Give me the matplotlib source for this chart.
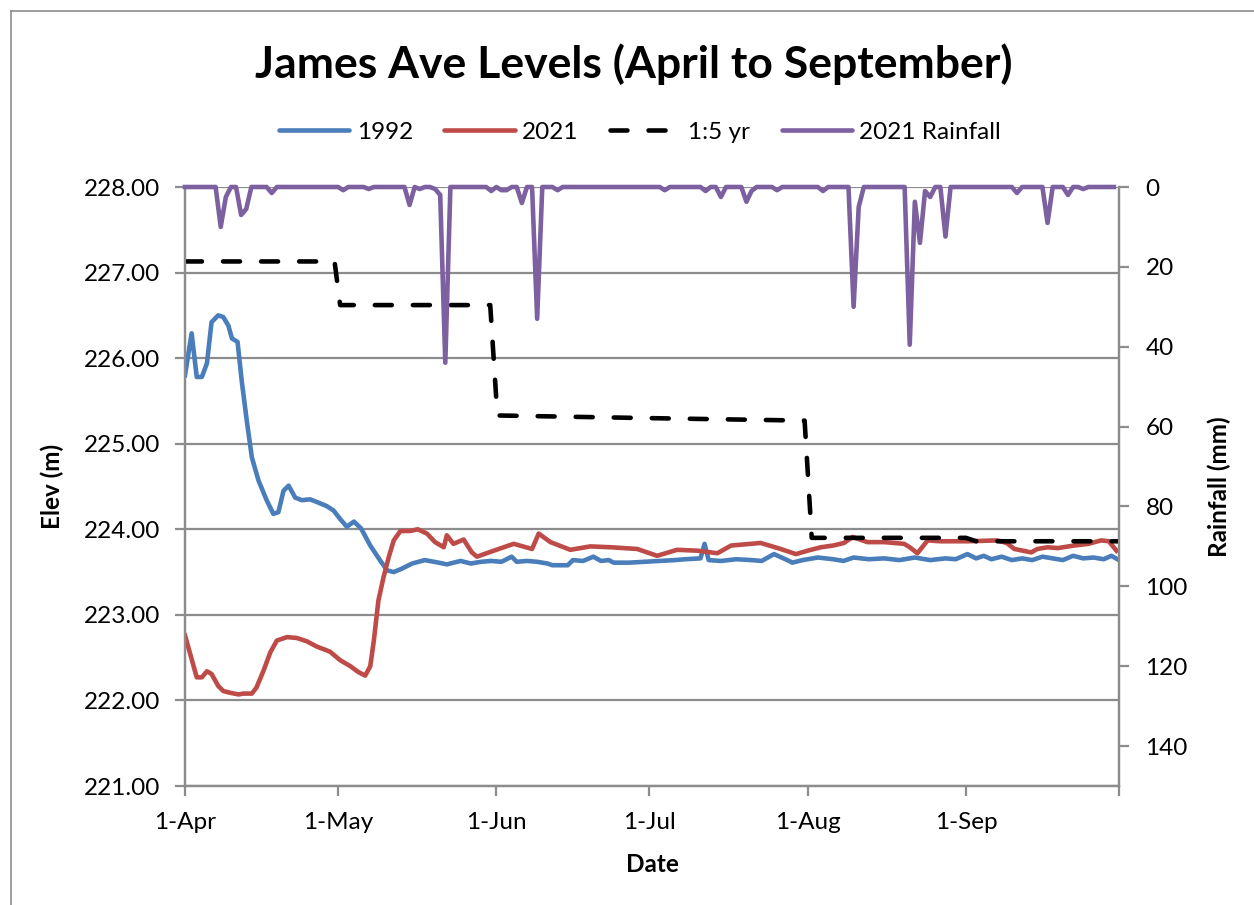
import matplotlib
matplotlib.use("Agg")
import matplotlib.pyplot as plt
from matplotlib.lines import Line2D
import numpy as np

plt.rcParams['font.family'] = ['Lato', 'DejaVu Sans']

# ---------------- data (day 0 = 1-Apr) ----------------
month_ticks = [0, 30, 61, 91, 122, 153]
month_labels = ["1-Apr", "1-May", "1-Jun", "1-Jul", "1-Aug", "1-Sep"]

days_1992 = [0, 1.3, 2.3, 3.3, 4.3, 5.2, 6.5, 7.5, 8.5, 9.2, 10.3, 11.1, 12.1, 13.1, 14.4,
             16, 17.3, 18.3, 19.3, 20.3, 21.6, 22.9, 24.5, 25.8, 27.8, 29.1, 30.4, 31.7,
             33.1, 34.5, 36.3, 38.3, 39.6, 40.9, 42.5, 44.5, 47, 49.7, 51.3, 54, 56, 58,
             60, 62, 64, 65, 67, 69, 71, 72, 75, 76, 78, 80, 81.5, 83, 84, 87, 90, 93, 96,
             98, 101, 101.8, 102.6, 105, 108, 111, 113, 115.4, 118, 119, 121, 124, 127,
             129, 131, 134, 137, 140, 143, 146, 149, 151, 153.3, 155, 156.5, 158, 160, 162,
             164, 166, 168, 170, 172, 174, 176, 178, 180, 181.5, 183]
elev_1992 = [225.80, 226.29, 225.78, 225.78, 225.94, 226.42, 226.50, 226.48, 226.38, 226.23,
             226.19, 225.74, 225.27, 224.84, 224.57, 224.34, 224.18, 224.20, 224.45, 224.51,
             224.37, 224.34, 224.35, 224.32, 224.27, 224.22, 224.12, 224.03, 224.09, 224.01,
             223.81, 223.63, 223.52, 223.50, 223.54, 223.60, 223.64, 223.61, 223.59, 223.63,
             223.60, 223.62, 223.63, 223.62, 223.68, 223.62, 223.63, 223.62, 223.60, 223.58,
             223.58, 223.64, 223.63, 223.68, 223.63, 223.64, 223.61, 223.61, 223.62, 223.63,
             223.64, 223.65, 223.66, 223.83, 223.64, 223.63, 223.65, 223.64, 223.63, 223.71,
             223.64, 223.61, 223.64, 223.67, 223.65, 223.63, 223.67, 223.65, 223.66, 223.64,
             223.67, 223.64, 223.66, 223.65, 223.71, 223.66, 223.69, 223.65, 223.68, 223.64,
             223.66, 223.64, 223.68, 223.66, 223.64, 223.69, 223.66, 223.67, 223.65, 223.69,
             223.64]

days_2021 = [0, 2.3, 3.3, 4.3, 5.2, 6.5, 7.5, 8.8, 10.5, 11.4, 13.1, 14, 15.4, 16.7, 18, 20,
             21.9, 23.9, 25.8, 28.4, 30.4, 32.4, 34, 35.3, 36.3, 37, 37.9, 38.9, 39.9, 40.9,
             42.2, 44.1, 45.6, 47.4, 49, 50.7, 51.3, 52.6, 54.6, 56.2, 57.2, 60.5, 64.4, 68,
             69.3, 71.6, 75.5, 79.4, 83.4, 88.6, 92.5, 96.4, 100.4, 104.3, 107, 112.8,
             116.7, 119.7, 122, 124.6, 127, 129.1, 130.8, 133.7, 137, 140.9, 142, 143.5,
             145.5, 148, 153.3, 159.2, 161, 162.5, 165.8, 167, 169, 171, 174.2, 177, 179.5,
             181, 182.5]
elev_2021 = [222.76, 222.27, 222.27, 222.34, 222.31, 222.17, 222.11, 222.09, 222.07, 222.08,
             222.08, 222.15, 222.35, 222.56, 222.70, 222.74, 222.73, 222.69, 222.63, 222.57,
             222.47, 222.40, 222.33, 222.29, 222.40, 222.70, 223.17, 223.44, 223.67, 223.87,
             223.98, 223.98, 224.00, 223.95, 223.85, 223.79, 223.93, 223.83, 223.88, 223.73,
             223.68, 223.75, 223.83, 223.77, 223.95, 223.85, 223.76, 223.80, 223.79, 223.77,
             223.69, 223.76, 223.75, 223.72, 223.81, 223.84, 223.77, 223.71, 223.75, 223.79,
             223.81, 223.84, 223.91, 223.85, 223.85, 223.83, 223.79, 223.72, 223.87, 223.86,
             223.86, 223.87, 223.84, 223.77, 223.73, 223.77, 223.79, 223.78, 223.81, 223.83,
             223.87, 223.86, 223.75]

days_5yr = [0, 29.3, 30.4, 59.8, 61.2, 90, 121.4, 122.8, 153, 155, 183]
elev_5yr = [227.13, 227.13, 226.62, 226.62, 225.33, 225.30, 225.27, 223.90, 223.90, 223.86, 223.86]

rain_days = [7, 8, 11, 12, 17, 31, 36, 44, 46, 49, 50, 51, 60, 62, 63, 66, 69, 73, 94, 102,
             105, 110, 111, 116, 125, 131, 132, 142, 143, 144, 145, 146, 149, 163, 169, 173, 176]
rain_mm = [10, 2.5, 7, 5.5, 1.5, 0.8, 0.5, 4.5, 0.5, 0.5, 2, 44, 1, 0.8, 0.8, 4, 33, 0.8, 0.8,
           1, 2.5, 3.7, 1, 0.8, 1, 30, 5, 39.5, 3.7, 14, 1, 2.5, 12.4, 1.5, 9, 2, 0.5]
n_days = 183

# ---------------- figure ----------------
W, H = 1254, 905
fig = plt.figure(figsize=(W / 100, H / 100), dpi=100)
L, R, T, B = 185, 1119, 187, 786
ax = fig.add_axes([L / W, 1 - B / H, (R - L) / W, (B - T) / H])
ax2 = ax.twinx()

blue = "#4A7EBB"
red = "#BE4B48"
purple = "#7D60A0"
grey = "#8C8C8C"
lw = 3.3
dash = (3.7, 4.6)

ax.plot(days_1992, elev_1992, color=blue, lw=lw, solid_joinstyle='round', zorder=3)
ax.plot(days_2021, elev_2021, color=red, lw=lw, solid_joinstyle='round', zorder=3)
ax.plot(days_5yr, elev_5yr, color="black", lw=lw, dashes=dash,
        dash_capstyle='round', zorder=3)

rain = np.zeros(n_days)
for d, v in zip(rain_days, rain_mm):
    rain[d] = v
ax2.plot(np.arange(n_days), rain, color=purple, lw=lw, solid_joinstyle='round',
         clip_on=False, zorder=3)

ax.set_xlim(0, 183)
ax.set_ylim(221, 228)
ax2.set_ylim(150, 0)

ax.set_yticks(np.arange(221, 228.01, 1.0))
ax.set_yticklabels([f"{v:.2f}" for v in np.arange(221, 228.01, 1.0)])
ax2.set_yticks(np.arange(0, 141, 20))
ax.set_xticks(month_ticks + [183])
ax.set_xticklabels(month_labels + [""])

fs = 17.5
ax.yaxis.grid(True, color=grey, lw=1.6)
ax.set_axisbelow(True)
for a in (ax, ax2):
    for s in a.spines.values():
        s.set_color(grey)
        s.set_linewidth(1.6)
    a.spines['top'].set_visible(False)
ax.tick_params(axis='both', which='both', color=grey, width=1.6, length=7,
               labelsize=fs, direction='out')
ax.tick_params(axis='y', pad=11)
ax.tick_params(axis='x', pad=12)
ax2.tick_params(axis='y', color=grey, width=1.6, length=7, labelsize=fs, pad=12)

ax.set_ylabel("Elev (m)", fontsize=fs, fontweight='bold', labelpad=14)
ax2.set_ylabel("Rainfall (mm)", fontsize=fs, fontweight='bold', labelpad=14)
ax.set_xlabel("Date", fontsize=fs, fontweight='bold', labelpad=14)

fig.text(0.5 * (255 + 1012) / W, 1 - 64 / H, "James Ave Levels (April to September)",
         ha='center', va='center', fontsize=32, fontweight='bold')

handles = [Line2D([], [], color=blue, lw=lw, solid_capstyle='round'),
           Line2D([], [], color=red, lw=lw, solid_capstyle='round'),
           Line2D([], [], color="black", lw=lw, dashes=dash, dash_capstyle='round'),
           Line2D([], [], color=purple, lw=lw, solid_capstyle='round')]
fig.legend(handles, ["1992", "2021", "1:5 yr", "2021 Rainfall"], loc='center',
           bbox_to_anchor=(640 / W, 1 - 132 / H), ncol=4, frameon=False, fontsize=fs,
           handlelength=2.9, handletextpad=0.3, columnspacing=1.3)

# outer chart border (top and left visible in crop)
fig.add_artist(plt.Line2D([11 / W, 11 / W], [0, 1 - 11 / H], transform=fig.transFigure,
                          color=grey, lw=1.2))
fig.add_artist(plt.Line2D([11 / W, 1], [1 - 11 / H, 1 - 11 / H], transform=fig.transFigure,
                          color=grey, lw=1.2))

fig.savefig("out.png", dpi=100)
